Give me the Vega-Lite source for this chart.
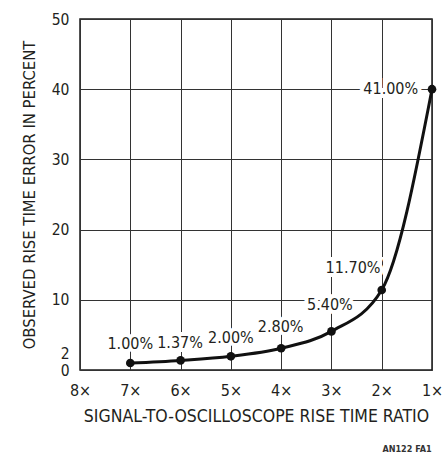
{
  "$schema": "https://vega.github.io/schema/vega-lite/v6.json",
  "width": 352,
  "height": 351,
  "autosize": "none",
  "padding": {"left": 80, "top": 19, "right": 11, "bottom": 84},
  "background": "white",
  "title": {"text": "AN122 FA1", "orient": "bottom", "anchor": "end", "fontSize": 9, "fontWeight": "bold", "font": "DejaVu Sans Condensed", "color": "#333", "offset": 20, "dx": -11},
  "config": {
    "font": "DejaVu Sans Condensed",
    "view": {"stroke": "#1a1a1a", "strokeWidth": 1.5},
    "axis": {"labelFont": "DejaVu Sans Condensed", "titleFont": "DejaVu Sans Condensed", "labelColor": "#231f20", "titleColor": "#231f20", "titleFontWeight": "normal"}
  },
  "data": {
    "values": [
      {"ratio": 7, "error": 1.0, "label": "1.00%", "lx": 7.0, "ly": 3.7},
      {"ratio": 6, "error": 1.37, "label": "1.37%", "lx": 6.01, "ly": 3.8},
      {"ratio": 5, "error": 1.95, "label": "2.00%", "lx": 5.0, "ly": 4.6},
      {"ratio": 4, "error": 3.1, "label": "2.80%", "lx": 4.01, "ly": 6.1},
      {"ratio": 3, "error": 5.5, "label": "5.40%", "lx": 3.03, "ly": 9.3},
      {"ratio": 2, "error": 11.4, "label": "11.70%", "lx": 2.57, "ly": 14.5},
      {"ratio": 1, "error": 40, "label": "41.00%", "lx": 1.82, "ly": 40}
    ]
  },
  "layer": [
    {
      "mark": {"type": "line", "color": "#111", "strokeWidth": 3, "interpolate": "monotone"},
      "encoding": {
        "x": {"field": "ratio", "type": "quantitative", "title": "SIGNAL-TO-OSCILLOSCOPE RISE TIME RATIO",
          "scale": {"domain": [1, 8], "reverse": true, "nice": false, "zero": false},
          "axis": {"values": [1, 2, 3, 4, 5, 6, 7, 8], "labelExpr": "datum.value + '×'", "labelOverlap": false, "grid": true, "gridColor": "#333", "gridWidth": 1, "gridOpacity": 1, "domain": false, "ticks": false, "tickSize": 0, "labelPadding": 12, "labelFontSize": 16, "titleFontSize": 17.5, "titlePadding": 9, "labelFlush": false}},
        "y": {"field": "error", "type": "quantitative", "title": "OBSERVED RISE TIME ERROR IN PERCENT",
          "scale": {"domain": [0, 50], "nice": false},
          "axis": {"values": [0, 2, 10, 20, 30, 40, 50], "labelOverlap": false, "grid": true, "gridColor": {"condition": {"test": "datum.value === 2", "value": "transparent"}, "value": "#333"}, "gridWidth": 1, "gridOpacity": 1, "domain": false, "ticks": false, "tickSize": 0, "labelPadding": 11, "labelFontSize": 15.5, "labelOffset": {"condition": {"test": "datum.value === 2", "value": -2}, "value": 0}, "titleFontSize": 16.5, "titlePadding": 14, "labelFlush": false}},
        "order": {"field": "ratio", "sort": "descending"}
      }
    },
    {
      "mark": {"type": "point", "filled": true, "color": "#111", "size": 75, "opacity": 1},
      "encoding": {
        "x": {"field": "ratio", "type": "quantitative", "title": "SIGNAL-TO-OSCILLOSCOPE RISE TIME RATIO"},
        "y": {"field": "error", "type": "quantitative", "title": "OBSERVED RISE TIME ERROR IN PERCENT"}
      }
    },
    {
      "mark": {"type": "text", "fontSize": 16, "stroke": "white", "strokeWidth": 8, "fill": "white", "baseline": "middle", "align": "center"},
      "encoding": {
        "x": {"field": "lx", "type": "quantitative", "title": "SIGNAL-TO-OSCILLOSCOPE RISE TIME RATIO"},
        "y": {"field": "ly", "type": "quantitative", "title": "OBSERVED RISE TIME ERROR IN PERCENT"},
        "text": {"field": "label"}
      }
    },
    {
      "mark": {"type": "text", "fontSize": 16, "fill": "#231f20", "baseline": "middle", "align": "center"},
      "encoding": {
        "x": {"field": "lx", "type": "quantitative", "title": "SIGNAL-TO-OSCILLOSCOPE RISE TIME RATIO"},
        "y": {"field": "ly", "type": "quantitative", "title": "OBSERVED RISE TIME ERROR IN PERCENT"},
        "text": {"field": "label"}
      }
    }
  ]
}
